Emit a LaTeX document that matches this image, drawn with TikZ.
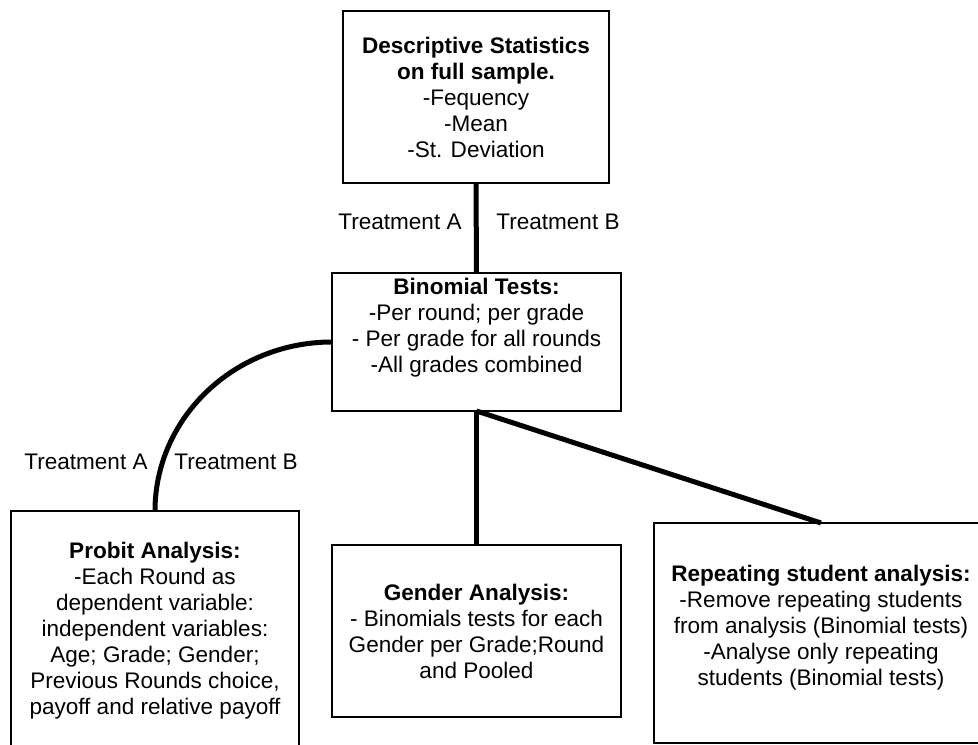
\documentclass[tikz,border=0pt]{standalone}
\usepackage{fontspec}
\setmainfont{Liberation Sans}
\begin{document}
\begin{tikzpicture}[x=0.75pt,y=-0.75pt,
  box/.style={draw, line width=1.2pt, inner sep=0pt, outer sep=0pt, fill=white},
  conn/.style={line width=3.75pt},
  txt/.style={align=center, font=\fontsize{16.9}{19.5}\selectfont, inner sep=0pt},
  lbl/.style={font=\fontsize{16.9}{19.5}\selectfont, inner sep=0pt}]
\useasboundingbox (0,0) rectangle (978,745);
\clip (0,0) rectangle (978,745);
\fill[white] (0,0) rectangle (978,745);

% boxes
\node[box, minimum width=199.5pt, minimum height=129pt] (top) at (476,97) {};
\node[box, minimum width=216.75pt, minimum height=103.5pt] (binom) at (476.5,342) {};
\node[box, minimum width=216pt, minimum height=194.25pt] (probit) at (155,640.5) {};
\node[box, minimum width=216.75pt, minimum height=129pt] (gender) at (476.5,631) {};
\node[box, minimum width=250.5pt, minimum height=165pt] (repeat) at (821,633) {};

% texts
\node[txt] (toptxt) at (476,97) {\textbf{Descriptive Statistics}\\\textbf{on full sample.}\\-Fequency\\-Mean\\-St. Deviation};
\node[txt] (binomtxt) at (476.5,328) {\textbf{Binomial Tests:}\\-Per round; per grade\\- Per grade for all rounds\\-All grades combined};
\node[txt] (probittxt) at (155,631) {\textbf{Probit Analysis:}\\-Each Round as\\dependent variable:\\independent variables:\\Age; Grade; Gender;\\Previous Rounds choice,\\payoff and relative payoff};
\node[txt] (gendertxt) at (476.5,631.5) {\textbf{Gender Analysis:}\\- Binomials tests for each\\Gender per Grade;Round\\and Pooled};
\node[txt] (repeattxt) at (821,627.5) {\textbf{Repeating student analysis:}\\-Remove repeating students\\from analysis (Binomial tests)\\-Analyse only repeating\\students (Binomial tests)};

% connectors
\draw[conn] (top.south) -- (binom.north);
\draw[conn] (binom.west) .. controls (234,342) and (155,418) .. (probit.north);
\draw[conn] (binom.south) -- (gender.north);
\draw[conn] (binom.south) -- (repeat.north);

% labels
\node[lbl] (tA1) at (400,222) {Treatment A};
\node[lbl] (tB1) at (558,222) {Treatment B};
\node[lbl] (tA2) at (86,462) {Treatment A};
\node[lbl] (tB2) at (236,462) {Treatment B};
\end{tikzpicture}
\end{document}
